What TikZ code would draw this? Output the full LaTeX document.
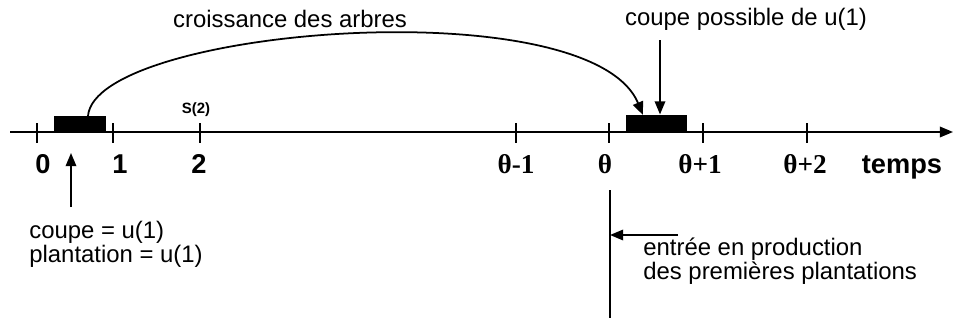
\documentclass[tikz,border=0pt]{standalone}
\usepackage{fontspec}
\setmainfont{Liberation Sans}
\newfontfamily\thetafont{Liberation Serif}
\usetikzlibrary{arrows.meta}
\tikzset{
  >={Triangle[length=7.5pt,width=6pt]},
  axe/.style={line width=1.1pt, ->},
  graduation/.style={line width=0.9pt},
  fleche/.style={line width=1pt, ->},
  bloc/.style={fill=black, inner sep=0pt, anchor=south west},
  lbl/.style={font=\fontsize{13.6}{12}\selectfont, inner sep=0pt, align=left},
  num/.style={font=\fontsize{15.5}{15}\selectfont\bfseries, inner sep=0pt, anchor=base},
  tnum/.style={font=\fontsize{15.5}{15}\selectfont\thetafont\bfseries, inner sep=0pt, anchor=base},
  petit/.style={font=\fontsize{8.5}{9}\selectfont\bfseries, inner sep=0pt}
}
\begin{document}
\begin{tikzpicture}[x=0.02cm, y=-0.02cm]
  \useasboundingbox (0,0) rectangle (953,321);
  % axe du temps
  \coordinate (debut) at (10,132);
  \coordinate (fin) at (953,132);
  \draw[axe] (debut) -- (fin);
  \foreach \x/\lx/\lab [count=\i] in {37/43/0, 113/120/1, 200/199/2} {
    \draw[graduation] (\x,123) -- (\x,143);
    \node[num] (n\i) at (\lx,173) {\lab};
  }
  \foreach \x/\lx/\lab [count=\i] in {516/516/{θ-1}, 609/605/θ, 703/700/{θ+1}, 807/805/{θ+2}} {
    \draw[graduation] (\x,123) -- (\x,143);
    \node[tnum] (t\i) at (\lx,173) {\lab};
  }
  \node[num] (temps) at (902,173) {temps};
  \node[petit] (s2) at (196,110) {S(2)};
  % plantations
  \node[bloc, minimum width=29.5pt, minimum height=9.6pt] (plant) at (54,133) {};
  \node[bloc, minimum width=34.6pt, minimum height=9.6pt] (coupe) at (626,132) {};
  \coordinate (depart) at (88,116);
  \coordinate (arrivee) at (643,115);
  \draw[fleche] (depart) .. controls (95,28) and (590,-12) .. (arrivee);
  \node[lbl] (croiss) at (290,19) {croissance des arbres};
  \node[lbl] (possible) at (746,19) {coupe possible de u(1)};
  \coordinate (hautfl) at (660,40);
  \draw[fleche] (hautfl) -- (coupe.north -| hautfl);
  % coupe initiale
  \coordinate (basfl) at (71,207);
  \coordinate (pointe) at (71,153);
  \draw[fleche] (basfl) -- (pointe);
  \node[lbl, anchor=west] (init) at (29,244) {coupe = u(1)\\plantation = u(1)};
  % entree en production
  \coordinate (thA) at (610,190);
  \coordinate (thB) at (610,318);
  \draw[graduation] (thA) -- (thB);
  \coordinate (depfl) at (678,235);
  \draw[fleche] (depfl) -- (depfl -| thA);
  \node[lbl, anchor=west] (prod) at (643,261) {entrée en production\\des premières plantations};
\end{tikzpicture}
\end{document}
